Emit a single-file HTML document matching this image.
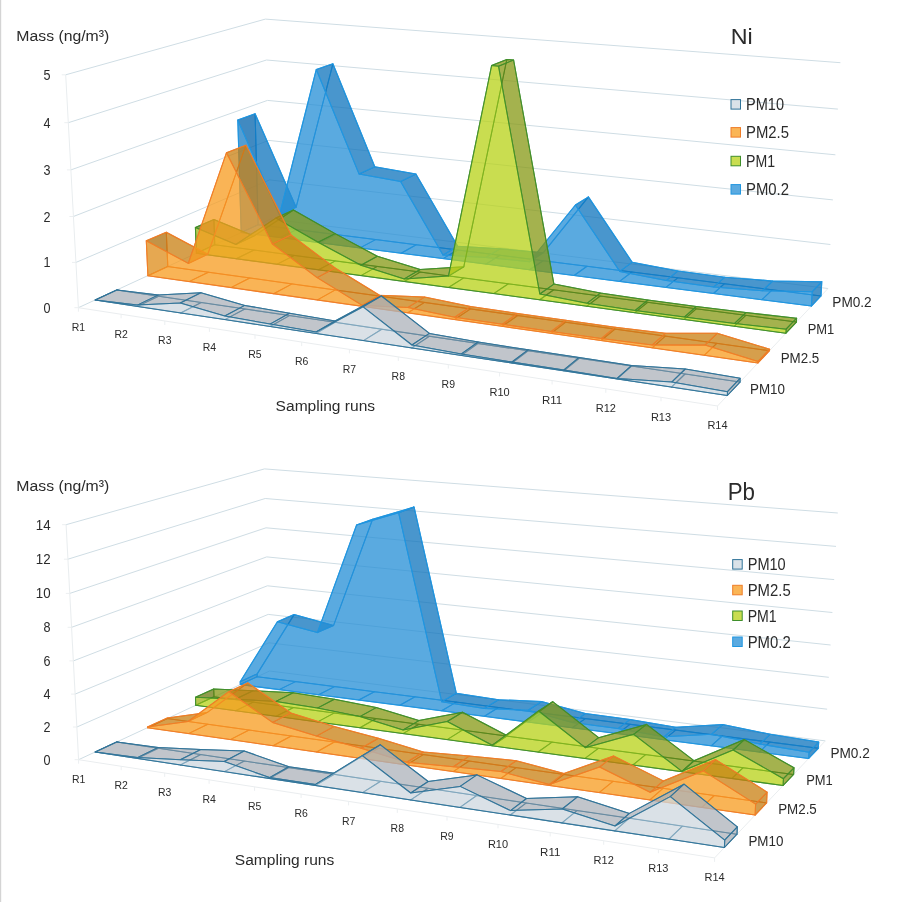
<!DOCTYPE html>
<html><head><meta charset="utf-8"><title>Ni / Pb</title><style>html,body{margin:0;padding:0;background:#fff;overflow:hidden}</style></head><body>
<svg width="900" height="902" viewBox="0 0 900 902" style="display:block">
<rect width="900" height="902" fill="#fff"/>
<rect x="0" y="0" width="1.2" height="902" fill="#d4d4d4"/>
<polyline points="78.4,307.7 270.6,219.0 828.0,288.5" fill="none" stroke="#cfdde4" stroke-width="1"/>
<line x1="74.4" y1="307.7" x2="78.4" y2="307.7" stroke="#eceff1" stroke-width="1"/>
<polyline points="76.0,262.4 269.6,179.9 830.4,244.5" fill="none" stroke="#cfdde4" stroke-width="1"/>
<line x1="72.0" y1="262.4" x2="76.0" y2="262.4" stroke="#eceff1" stroke-width="1"/>
<polyline points="73.4,216.5 268.6,140.4 832.9,199.9" fill="none" stroke="#cfdde4" stroke-width="1"/>
<line x1="69.4" y1="216.5" x2="73.4" y2="216.5" stroke="#eceff1" stroke-width="1"/>
<polyline points="70.9,169.9 267.5,100.4 835.4,154.8" fill="none" stroke="#cfdde4" stroke-width="1"/>
<line x1="66.9" y1="169.9" x2="70.9" y2="169.9" stroke="#eceff1" stroke-width="1"/>
<polyline points="68.3,122.7 266.5,60.0 837.9,109.1" fill="none" stroke="#cfdde4" stroke-width="1"/>
<line x1="64.3" y1="122.7" x2="68.3" y2="122.7" stroke="#eceff1" stroke-width="1"/>
<polyline points="65.7,74.8 265.4,19.1 840.4,62.7" fill="none" stroke="#cfdde4" stroke-width="1"/>
<line x1="61.7" y1="74.8" x2="65.7" y2="74.8" stroke="#eceff1" stroke-width="1"/>
<line x1="78.4" y1="307.7" x2="65.7" y2="74.8" stroke="#e9edef" stroke-width="1"/>
<polyline points="78.4,307.7 717.5,406.0 828.0,288.5" fill="none" stroke="#eaedef" stroke-width="1"/>
<line x1="78.4" y1="307.7" x2="78.4" y2="311.7" stroke="#eceff1" stroke-width="1"/>
<line x1="121.1" y1="314.3" x2="121.1" y2="318.3" stroke="#eceff1" stroke-width="1"/>
<line x1="164.8" y1="321.0" x2="164.8" y2="325.0" stroke="#eceff1" stroke-width="1"/>
<line x1="209.4" y1="327.9" x2="209.4" y2="331.9" stroke="#eceff1" stroke-width="1"/>
<line x1="255.0" y1="334.9" x2="255.0" y2="338.9" stroke="#eceff1" stroke-width="1"/>
<line x1="301.7" y1="342.1" x2="301.7" y2="346.1" stroke="#eceff1" stroke-width="1"/>
<line x1="349.4" y1="349.4" x2="349.4" y2="353.4" stroke="#eceff1" stroke-width="1"/>
<line x1="398.3" y1="356.9" x2="398.3" y2="360.9" stroke="#eceff1" stroke-width="1"/>
<line x1="448.3" y1="364.6" x2="448.3" y2="368.6" stroke="#eceff1" stroke-width="1"/>
<line x1="499.6" y1="372.5" x2="499.6" y2="376.5" stroke="#eceff1" stroke-width="1"/>
<line x1="552.1" y1="380.5" x2="552.1" y2="384.5" stroke="#eceff1" stroke-width="1"/>
<line x1="605.8" y1="388.8" x2="605.8" y2="392.8" stroke="#eceff1" stroke-width="1"/>
<line x1="661.0" y1="397.3" x2="661.0" y2="401.3" stroke="#eceff1" stroke-width="1"/>
<line x1="717.5" y1="406.0" x2="717.5" y2="410.0" stroke="#eceff1" stroke-width="1"/>
<g stroke="#2096e0" stroke-width="1.05" stroke-opacity="0.9" stroke-linejoin="round" fill-opacity="0.5">
<polygon points="241.2,232.6 280.0,237.6 296.6,229.6 258.2,224.7" fill="#248ed6"/>
<polygon points="280.0,237.6 319.6,242.7 335.7,234.5 296.6,229.6" fill="#248ed6"/>
<polygon points="319.6,242.7 360.0,247.9 375.6,239.6 335.7,234.5" fill="#248ed6"/>
<polygon points="360.0,247.9 401.1,253.2 416.2,244.7 375.6,239.6" fill="#248ed6"/>
<polygon points="401.1,253.2 443.1,258.6 457.7,250.0 416.2,244.7" fill="#248ed6"/>
<polygon points="443.1,258.6 485.9,264.1 500.0,255.3 457.7,250.0" fill="#248ed6"/>
<polygon points="485.9,264.1 529.5,269.8 543.1,260.8 500.0,255.3" fill="#248ed6"/>
<polygon points="529.5,269.8 574.1,275.5 587.0,266.3 543.1,260.8" fill="#248ed6"/>
<polygon points="574.1,275.5 619.6,281.4 631.9,272.0 587.0,266.3" fill="#248ed6"/>
<polygon points="619.6,281.4 666.0,287.4 677.7,277.8 631.9,272.0" fill="#248ed6"/>
<polygon points="666.0,287.4 713.5,293.5 724.5,283.7 677.7,277.8" fill="#248ed6"/>
<polygon points="713.5,293.5 761.9,299.7 772.2,289.8 724.5,283.7" fill="#248ed6"/>
<polygon points="761.9,299.7 811.4,306.1 821.0,295.9 772.2,289.8" fill="#248ed6"/>
<polygon points="258.2,224.7 255.1,113.8 296.1,207.3 332.9,63.8 374.8,166.7 415.9,174.1 457.7,246.3 500.0,248.7 543.2,252.8 588.4,196.9 632.2,262.2 678.0,270.9 724.8,277.2 772.7,281.0 821.8,281.7 821.0,295.9" fill="#248ed6"/>
<polygon points="241.2,232.6 237.8,120.1 255.1,113.8 258.2,224.7" fill="#0260a6"/>
<polygon points="237.8,120.1 279.5,215.0 296.1,207.3 255.1,113.8" fill="#0265af"/>
<polygon points="279.5,215.0 316.3,69.5 332.9,63.8 296.1,207.3" fill="#248ed6"/>
<polygon points="316.3,69.5 359.0,173.9 374.8,166.7 332.9,63.8" fill="#0265af"/>
<polygon points="359.0,173.9 400.6,181.5 415.9,174.1 374.8,166.7" fill="#0265af"/>
<polygon points="400.6,181.5 443.0,254.9 457.7,246.3 415.9,174.1" fill="#0265af"/>
<polygon points="443.0,254.9 485.9,257.4 500.0,248.7 457.7,246.3" fill="#0265af"/>
<polygon points="485.9,257.4 529.6,261.7 543.2,252.8 500.0,248.7" fill="#0265af"/>
<polygon points="529.6,261.7 575.4,205.0 588.4,196.9 543.2,252.8" fill="#248ed6"/>
<polygon points="575.4,205.0 619.8,271.4 632.2,262.2 588.4,196.9" fill="#0265af"/>
<polygon points="619.8,271.4 666.3,280.4 678.0,270.9 632.2,262.2" fill="#0265af"/>
<polygon points="666.3,280.4 713.7,286.9 724.8,277.2 678.0,270.9" fill="#0265af"/>
<polygon points="713.7,286.9 762.3,290.8 772.7,281.0 724.8,277.2" fill="#0265af"/>
<polygon points="762.3,290.8 812.2,291.7 821.8,281.7 772.7,281.0" fill="#0265af"/>
<polygon points="811.4,306.1 812.2,291.7 821.8,281.7 821.0,295.9" fill="#0260a6"/>
<polygon points="241.2,232.6 237.8,120.1 279.5,215.0 316.3,69.5 359.0,173.9 400.6,181.5 443.0,254.9 485.9,257.4 529.6,261.7 575.4,205.0 619.8,271.4 666.3,280.4 713.7,286.9 762.3,290.8 812.2,291.7 811.4,306.1" fill="#248ed6"/>
</g>
<g stroke="#3f8f2b" stroke-width="1.05" stroke-opacity="0.9" stroke-linejoin="round" fill-opacity="0.5">
<polygon points="196.4,253.3 236.3,258.7 254.2,250.0 214.8,244.8" fill="#b7d216"/>
<polygon points="236.3,258.7 277.1,264.2 294.5,255.4 254.2,250.0" fill="#b7d216"/>
<polygon points="277.1,264.2 318.6,269.8 335.5,260.9 294.5,255.4" fill="#b7d216"/>
<polygon points="318.6,269.8 361.0,275.6 377.4,266.4 335.5,260.9" fill="#b7d216"/>
<polygon points="361.0,275.6 404.3,281.5 420.2,272.1 377.4,266.4" fill="#b7d216"/>
<polygon points="404.3,281.5 448.5,287.5 463.8,277.9 420.2,272.1" fill="#b7d216"/>
<polygon points="448.5,287.5 493.7,293.6 508.4,283.8 463.8,277.9" fill="#b7d216"/>
<polygon points="493.7,293.6 539.8,299.8 553.8,289.8 508.4,283.8" fill="#b7d216"/>
<polygon points="539.8,299.8 586.9,306.2 600.3,296.0 553.8,289.8" fill="#b7d216"/>
<polygon points="586.9,306.2 635.0,312.7 647.7,302.3 600.3,296.0" fill="#b7d216"/>
<polygon points="635.0,312.7 684.2,319.4 696.2,308.8 647.7,302.3" fill="#b7d216"/>
<polygon points="684.2,319.4 734.5,326.2 745.8,315.3 696.2,308.8" fill="#b7d216"/>
<polygon points="734.5,326.2 785.9,333.2 796.4,322.1 745.8,315.3" fill="#b7d216"/>
<polygon points="214.8,244.8 213.9,219.5 253.8,236.1 293.4,210.0 335.1,233.6 377.3,256.3 420.2,269.5 463.8,266.7 506.8,59.5 513.6,60.0 553.9,284.1 600.3,293.1 647.8,300.1 696.3,306.5 745.9,312.6 796.6,318.2 796.4,322.1" fill="#b7d216"/>
<polygon points="196.4,253.3 195.4,227.6 213.9,219.5 214.8,244.8" fill="#687510"/>
<polygon points="195.4,227.6 235.9,244.5 253.8,236.1 213.9,219.5" fill="#6d7b11"/>
<polygon points="235.9,244.5 275.9,218.1 293.4,210.0 253.8,236.1" fill="#b7d216"/>
<polygon points="275.9,218.1 318.1,242.2 335.1,233.6 293.4,210.0" fill="#6d7b11"/>
<polygon points="318.1,242.2 360.9,265.3 377.3,256.3 335.1,233.6" fill="#6d7b11"/>
<polygon points="360.9,265.3 404.3,278.9 420.2,269.5 377.3,256.3" fill="#6d7b11"/>
<polygon points="404.3,278.9 448.5,276.1 463.8,266.7 420.2,269.5" fill="#6d7b11"/>
<polygon points="448.5,276.1 491.6,65.6 506.8,59.5 463.8,266.7" fill="#b7d216"/>
<polygon points="491.6,65.6 498.5,66.2 513.6,60.0 506.8,59.5" fill="#6d7b11"/>
<polygon points="498.5,66.2 539.8,294.0 553.9,284.1 513.6,60.0" fill="#6d7b11"/>
<polygon points="539.8,294.0 586.9,303.3 600.3,293.1 553.9,284.1" fill="#6d7b11"/>
<polygon points="586.9,303.3 635.1,310.5 647.8,300.1 600.3,293.1" fill="#6d7b11"/>
<polygon points="635.1,310.5 684.3,317.1 696.3,306.5 647.8,300.1" fill="#6d7b11"/>
<polygon points="684.3,317.1 734.6,323.4 745.9,312.6 696.3,306.5" fill="#6d7b11"/>
<polygon points="734.6,323.4 786.1,329.2 796.6,318.2 745.9,312.6" fill="#6d7b11"/>
<polygon points="785.9,333.2 786.1,329.2 796.6,318.2 796.4,322.1" fill="#687510"/>
<polygon points="196.4,253.3 195.4,227.6 235.9,244.5 275.9,218.1 318.1,242.2 360.9,265.3 404.3,278.9 448.5,276.1 491.6,65.6 498.5,66.2 539.8,294.0 586.9,303.3 635.1,310.5 684.3,317.1 734.6,323.4 786.1,329.2 785.9,333.2" fill="#b7d216"/>
</g>
<g stroke="#ef7d28" stroke-width="1.05" stroke-opacity="0.9" stroke-linejoin="round" fill-opacity="0.5">
<polygon points="147.9,275.7 189.0,281.6 208.4,272.2 167.8,266.5" fill="#f89c1e"/>
<polygon points="189.0,281.6 230.9,287.6 249.8,278.0 208.4,272.2" fill="#f89c1e"/>
<polygon points="230.9,287.6 273.7,293.7 292.1,283.9 249.8,278.0" fill="#f89c1e"/>
<polygon points="273.7,293.7 317.5,299.9 335.4,289.9 292.1,283.9" fill="#f89c1e"/>
<polygon points="317.5,299.9 362.2,306.3 379.5,296.1 335.4,289.9" fill="#f89c1e"/>
<polygon points="362.2,306.3 407.9,312.8 424.6,302.4 379.5,296.1" fill="#f89c1e"/>
<polygon points="407.9,312.8 454.6,319.5 470.6,308.9 424.6,302.4" fill="#f89c1e"/>
<polygon points="454.6,319.5 502.3,326.3 517.7,315.5 470.6,308.9" fill="#f89c1e"/>
<polygon points="502.3,326.3 551.1,333.3 565.8,322.2 517.7,315.5" fill="#f89c1e"/>
<polygon points="551.1,333.3 601.1,340.5 615.0,329.1 565.8,322.2" fill="#f89c1e"/>
<polygon points="601.1,340.5 652.2,347.8 665.3,336.1 615.0,329.1" fill="#f89c1e"/>
<polygon points="652.2,347.8 704.5,355.2 716.8,343.3 665.3,336.1" fill="#f89c1e"/>
<polygon points="704.5,355.2 758.0,362.9 769.5,350.7 716.8,343.3" fill="#f89c1e"/>
<polygon points="167.8,266.5 166.3,232.2 207.7,254.3 245.9,145.2 291.0,235.0 335.0,268.0 379.5,295.2 424.5,297.1 470.6,306.6 517.7,313.4 565.8,320.3 615.1,327.2 665.4,333.3 717.2,333.3 769.6,349.2 769.5,350.7" fill="#f89c1e"/>
<polygon points="147.9,275.7 146.3,240.8 166.3,232.2 167.8,266.5" fill="#a96c0a"/>
<polygon points="146.3,240.8 188.3,263.4 207.7,254.3 166.3,232.2" fill="#b2720a"/>
<polygon points="188.3,263.4 226.5,152.7 245.9,145.2 207.7,254.3" fill="#f89c1e"/>
<polygon points="226.5,152.7 272.4,244.0 291.0,235.0 245.9,145.2" fill="#b2720a"/>
<polygon points="272.4,244.0 317.1,277.6 335.0,268.0 291.0,235.0" fill="#b2720a"/>
<polygon points="317.1,277.6 362.2,305.4 379.5,295.2 335.0,268.0" fill="#b2720a"/>
<polygon points="362.2,305.4 407.9,307.4 424.5,297.1 379.5,295.2" fill="#b2720a"/>
<polygon points="407.9,307.4 454.6,317.2 470.6,306.6 424.5,297.1" fill="#b2720a"/>
<polygon points="454.6,317.2 502.3,324.3 517.7,313.4 470.6,306.6" fill="#b2720a"/>
<polygon points="502.3,324.3 551.2,331.4 565.8,320.3 517.7,313.4" fill="#b2720a"/>
<polygon points="551.2,331.4 601.1,338.6 615.1,327.2 565.8,320.3" fill="#b2720a"/>
<polygon points="601.1,338.6 652.3,344.9 665.4,333.3 615.1,327.2" fill="#b2720a"/>
<polygon points="652.3,344.9 704.9,345.1 717.2,333.3 665.4,333.3" fill="#b2720a"/>
<polygon points="704.9,345.1 758.1,361.4 769.6,349.2 717.2,333.3" fill="#b2720a"/>
<polygon points="758.0,362.9 758.1,361.4 769.6,349.2 769.5,350.7" fill="#a96c0a"/>
<polygon points="147.9,275.7 146.3,240.8 188.3,263.4 226.5,152.7 272.4,244.0 317.1,277.6 362.2,305.4 407.9,307.4 454.6,317.2 502.3,324.3 551.2,331.4 601.1,338.6 652.3,344.9 704.9,345.1 758.1,361.4 758.0,362.9" fill="#f89c1e"/>
</g>
<g stroke="#2e7298" stroke-width="1.05" stroke-opacity="0.9" stroke-linejoin="round" fill-opacity="0.5">
<polygon points="95.2,300.0 137.5,306.4 158.6,296.2 116.8,290.0" fill="#cdd8e0"/>
<polygon points="137.5,306.4 180.7,313.0 201.3,302.5 158.6,296.2" fill="#cdd8e0"/>
<polygon points="180.7,313.0 224.9,319.6 244.9,309.0 201.3,302.5" fill="#cdd8e0"/>
<polygon points="224.9,319.6 270.1,326.5 289.5,315.6 244.9,309.0" fill="#cdd8e0"/>
<polygon points="270.1,326.5 316.3,333.4 335.1,322.3 289.5,315.6" fill="#cdd8e0"/>
<polygon points="316.3,333.4 363.5,340.6 381.8,329.2 335.1,322.3" fill="#cdd8e0"/>
<polygon points="363.5,340.6 411.9,347.9 429.4,336.2 381.8,329.2" fill="#cdd8e0"/>
<polygon points="411.9,347.9 461.4,355.4 478.2,343.4 429.4,336.2" fill="#cdd8e0"/>
<polygon points="461.4,355.4 512.0,363.0 528.1,350.8 478.2,343.4" fill="#cdd8e0"/>
<polygon points="512.0,363.0 563.9,370.8 579.2,358.3 528.1,350.8" fill="#cdd8e0"/>
<polygon points="563.9,370.8 617.1,378.9 631.5,366.1 579.2,358.3" fill="#cdd8e0"/>
<polygon points="617.1,378.9 671.5,387.1 685.1,374.0 631.5,366.1" fill="#cdd8e0"/>
<polygon points="671.5,387.1 727.3,395.5 740.0,382.1 685.1,374.0" fill="#cdd8e0"/>
<polygon points="116.8,290.0 116.8,290.0 158.5,294.9 200.9,292.7 244.8,305.4 289.5,313.3 335.1,320.9 381.4,296.0 429.4,333.4 478.2,342.0 528.1,349.8 579.2,357.4 631.5,365.6 685.3,369.0 740.1,378.3 740.0,382.1" fill="#cdd8e0"/>
<polygon points="95.2,300.0 95.2,300.0 116.8,290.0 116.8,290.0" fill="#9498a0"/>
<polygon points="95.2,300.0 137.4,305.1 158.5,294.9 116.8,290.0" fill="#9ca0a8"/>
<polygon points="137.4,305.1 180.3,303.0 200.9,292.7 158.5,294.9" fill="#9ca0a8"/>
<polygon points="180.3,303.0 224.8,316.0 244.8,305.4 200.9,292.7" fill="#9ca0a8"/>
<polygon points="224.8,316.0 270.0,324.1 289.5,313.3 244.8,305.4" fill="#9ca0a8"/>
<polygon points="270.0,324.1 316.2,332.0 335.1,320.9 289.5,313.3" fill="#9ca0a8"/>
<polygon points="316.2,332.0 363.1,306.8 381.4,296.0 335.1,320.9" fill="#9ca0a8"/>
<polygon points="363.1,306.8 411.9,345.0 429.4,333.4 381.4,296.0" fill="#9ca0a8"/>
<polygon points="411.9,345.0 461.4,353.9 478.2,342.0 429.4,333.4" fill="#9ca0a8"/>
<polygon points="461.4,353.9 512.0,362.0 528.1,349.8 478.2,342.0" fill="#9ca0a8"/>
<polygon points="512.0,362.0 563.9,369.9 579.2,357.4 528.1,349.8" fill="#9ca0a8"/>
<polygon points="563.9,369.9 617.1,378.4 631.5,365.6 579.2,357.4" fill="#9ca0a8"/>
<polygon points="617.1,378.4 671.7,382.1 685.3,369.0 631.5,365.6" fill="#9ca0a8"/>
<polygon points="671.7,382.1 727.5,391.7 740.1,378.3 685.3,369.0" fill="#9ca0a8"/>
<polygon points="727.3,395.5 727.5,391.7 740.1,378.3 740.0,382.1" fill="#9498a0"/>
<polygon points="95.2,300.0 95.2,300.0 137.4,305.1 180.3,303.0 224.8,316.0 270.0,324.1 316.2,332.0 363.1,306.8 411.9,345.0 461.4,353.9 512.0,362.0 563.9,369.9 617.1,378.4 671.7,382.1 727.5,391.7 727.3,395.5" fill="#cdd8e0"/>
</g>
<text x="16.3" y="40.8" font-size="15.2" textLength="93" lengthAdjust="spacingAndGlyphs" font-family="Liberation Sans, sans-serif" fill="#2b2b2b">Mass (ng/m³)</text>
<text x="43.6" y="312.7" font-size="14.2" textLength="7.0" lengthAdjust="spacingAndGlyphs" font-family="Liberation Sans, sans-serif" fill="#2b2b2b">0</text>
<text x="43.6" y="267.4" font-size="14.2" textLength="7.0" lengthAdjust="spacingAndGlyphs" font-family="Liberation Sans, sans-serif" fill="#2b2b2b">1</text>
<text x="43.6" y="221.5" font-size="14.2" textLength="7.0" lengthAdjust="spacingAndGlyphs" font-family="Liberation Sans, sans-serif" fill="#2b2b2b">2</text>
<text x="43.6" y="174.9" font-size="14.2" textLength="7.0" lengthAdjust="spacingAndGlyphs" font-family="Liberation Sans, sans-serif" fill="#2b2b2b">3</text>
<text x="43.6" y="127.7" font-size="14.2" textLength="7.0" lengthAdjust="spacingAndGlyphs" font-family="Liberation Sans, sans-serif" fill="#2b2b2b">4</text>
<text x="43.6" y="79.8" font-size="14.2" textLength="7.0" lengthAdjust="spacingAndGlyphs" font-family="Liberation Sans, sans-serif" fill="#2b2b2b">5</text>
<text x="71.7" y="330.9" font-size="11.8" textLength="13.4" lengthAdjust="spacingAndGlyphs" font-family="Liberation Sans, sans-serif" fill="#2b2b2b">R1</text>
<text x="114.4" y="337.5" font-size="11.8" textLength="13.4" lengthAdjust="spacingAndGlyphs" font-family="Liberation Sans, sans-serif" fill="#2b2b2b">R2</text>
<text x="158.1" y="344.2" font-size="11.8" textLength="13.4" lengthAdjust="spacingAndGlyphs" font-family="Liberation Sans, sans-serif" fill="#2b2b2b">R3</text>
<text x="202.7" y="351.1" font-size="11.8" textLength="13.4" lengthAdjust="spacingAndGlyphs" font-family="Liberation Sans, sans-serif" fill="#2b2b2b">R4</text>
<text x="248.3" y="358.1" font-size="11.8" textLength="13.4" lengthAdjust="spacingAndGlyphs" font-family="Liberation Sans, sans-serif" fill="#2b2b2b">R5</text>
<text x="295.0" y="365.3" font-size="11.8" textLength="13.4" lengthAdjust="spacingAndGlyphs" font-family="Liberation Sans, sans-serif" fill="#2b2b2b">R6</text>
<text x="342.7" y="372.6" font-size="11.8" textLength="13.4" lengthAdjust="spacingAndGlyphs" font-family="Liberation Sans, sans-serif" fill="#2b2b2b">R7</text>
<text x="391.6" y="380.1" font-size="11.8" textLength="13.4" lengthAdjust="spacingAndGlyphs" font-family="Liberation Sans, sans-serif" fill="#2b2b2b">R8</text>
<text x="441.6" y="387.8" font-size="11.8" textLength="13.4" lengthAdjust="spacingAndGlyphs" font-family="Liberation Sans, sans-serif" fill="#2b2b2b">R9</text>
<text x="489.5" y="395.7" font-size="11.8" textLength="20.2" lengthAdjust="spacingAndGlyphs" font-family="Liberation Sans, sans-serif" fill="#2b2b2b">R10</text>
<text x="542.0" y="403.7" font-size="11.8" textLength="20.2" lengthAdjust="spacingAndGlyphs" font-family="Liberation Sans, sans-serif" fill="#2b2b2b">R11</text>
<text x="595.7" y="412.0" font-size="11.8" textLength="20.2" lengthAdjust="spacingAndGlyphs" font-family="Liberation Sans, sans-serif" fill="#2b2b2b">R12</text>
<text x="650.9" y="420.5" font-size="11.8" textLength="20.2" lengthAdjust="spacingAndGlyphs" font-family="Liberation Sans, sans-serif" fill="#2b2b2b">R13</text>
<text x="707.4" y="429.2" font-size="11.8" textLength="20.2" lengthAdjust="spacingAndGlyphs" font-family="Liberation Sans, sans-serif" fill="#2b2b2b">R14</text>
<text x="275.6" y="410.5" font-size="15.5" textLength="99.5" lengthAdjust="spacingAndGlyphs" font-family="Liberation Sans, sans-serif" fill="#2b2b2b">Sampling runs</text>
<text x="730.7" y="44.3" font-size="22.5" textLength="22" lengthAdjust="spacingAndGlyphs" font-family="Liberation Sans, sans-serif" fill="#2b2b2b">Ni</text>
<rect x="731" y="99.6" width="9.5" height="9.5" fill="#dae2e8" stroke="#2e7298" stroke-width="1"/>
<text x="746" y="110.1" font-size="16" textLength="38" lengthAdjust="spacingAndGlyphs" font-family="Liberation Sans, sans-serif" fill="#2b2b2b">PM10</text>
<rect x="731" y="127.6" width="9.5" height="9.5" fill="#fab556" stroke="#ef7d28" stroke-width="1"/>
<text x="746" y="138.1" font-size="16" textLength="43" lengthAdjust="spacingAndGlyphs" font-family="Liberation Sans, sans-serif" fill="#2b2b2b">PM2.5</text>
<rect x="731" y="156.3" width="9.5" height="9.5" fill="#c9dd50" stroke="#3f8f2b" stroke-width="1"/>
<text x="746" y="166.8" font-size="16" textLength="29" lengthAdjust="spacingAndGlyphs" font-family="Liberation Sans, sans-serif" fill="#2b2b2b">PM1</text>
<rect x="731" y="184.6" width="9.5" height="9.5" fill="#5baae0" stroke="#2096e0" stroke-width="1"/>
<text x="746" y="195.1" font-size="16" textLength="43" lengthAdjust="spacingAndGlyphs" font-family="Liberation Sans, sans-serif" fill="#2b2b2b">PM0.2</text>
<text x="832.3" y="307.3" font-size="14.7" textLength="39.4" lengthAdjust="spacingAndGlyphs" font-family="Liberation Sans, sans-serif" fill="#2b2b2b">PM0.2</text>
<text x="807.7" y="334.3" font-size="14.7" textLength="26.6" lengthAdjust="spacingAndGlyphs" font-family="Liberation Sans, sans-serif" fill="#2b2b2b">PM1</text>
<text x="780.7" y="362.7" font-size="14.7" textLength="38.6" lengthAdjust="spacingAndGlyphs" font-family="Liberation Sans, sans-serif" fill="#2b2b2b">PM2.5</text>
<text x="750" y="394.3" font-size="14.7" textLength="35" lengthAdjust="spacingAndGlyphs" font-family="Liberation Sans, sans-serif" fill="#2b2b2b">PM10</text><polyline points="78.6,759.7 269.6,671.0 825.3,740.9" fill="none" stroke="#cfdde4" stroke-width="1"/>
<line x1="74.6" y1="759.7" x2="78.6" y2="759.7" stroke="#eceff1" stroke-width="1"/>
<polyline points="76.9,727.0 268.9,642.8 827.1,709.2" fill="none" stroke="#cfdde4" stroke-width="1"/>
<line x1="72.9" y1="727.0" x2="76.9" y2="727.0" stroke="#eceff1" stroke-width="1"/>
<polyline points="75.1,694.1 268.2,614.4 828.8,677.3" fill="none" stroke="#cfdde4" stroke-width="1"/>
<line x1="71.1" y1="694.1" x2="75.1" y2="694.1" stroke="#eceff1" stroke-width="1"/>
<polyline points="73.4,660.9 267.4,585.8 830.6,645.0" fill="none" stroke="#cfdde4" stroke-width="1"/>
<line x1="69.4" y1="660.9" x2="73.4" y2="660.9" stroke="#eceff1" stroke-width="1"/>
<polyline points="71.6,627.3 266.7,556.9 832.4,612.5" fill="none" stroke="#cfdde4" stroke-width="1"/>
<line x1="67.6" y1="627.3" x2="71.6" y2="627.3" stroke="#eceff1" stroke-width="1"/>
<polyline points="69.8,593.4 266.0,527.8 834.2,579.6" fill="none" stroke="#cfdde4" stroke-width="1"/>
<line x1="65.8" y1="593.4" x2="69.8" y2="593.4" stroke="#eceff1" stroke-width="1"/>
<polyline points="67.9,559.2 265.2,498.5 836.0,546.4" fill="none" stroke="#cfdde4" stroke-width="1"/>
<line x1="63.9" y1="559.2" x2="67.9" y2="559.2" stroke="#eceff1" stroke-width="1"/>
<polyline points="66.1,524.7 264.5,468.9 837.8,513.0" fill="none" stroke="#cfdde4" stroke-width="1"/>
<line x1="62.1" y1="524.7" x2="66.1" y2="524.7" stroke="#eceff1" stroke-width="1"/>
<line x1="78.6" y1="759.7" x2="66.1" y2="524.7" stroke="#e9edef" stroke-width="1"/>
<polyline points="78.6,759.7 714.6,857.9 825.3,740.9" fill="none" stroke="#eaedef" stroke-width="1"/>
<line x1="78.6" y1="759.7" x2="78.6" y2="763.7" stroke="#eceff1" stroke-width="1"/>
<line x1="121.2" y1="766.2" x2="121.2" y2="770.2" stroke="#eceff1" stroke-width="1"/>
<line x1="164.7" y1="772.9" x2="164.7" y2="776.9" stroke="#eceff1" stroke-width="1"/>
<line x1="209.1" y1="779.8" x2="209.1" y2="783.8" stroke="#eceff1" stroke-width="1"/>
<line x1="254.6" y1="786.8" x2="254.6" y2="790.8" stroke="#eceff1" stroke-width="1"/>
<line x1="301.1" y1="794.0" x2="301.1" y2="798.0" stroke="#eceff1" stroke-width="1"/>
<line x1="348.6" y1="801.4" x2="348.6" y2="805.4" stroke="#eceff1" stroke-width="1"/>
<line x1="397.3" y1="808.9" x2="397.3" y2="812.9" stroke="#eceff1" stroke-width="1"/>
<line x1="447.0" y1="816.6" x2="447.0" y2="820.6" stroke="#eceff1" stroke-width="1"/>
<line x1="498.0" y1="824.4" x2="498.0" y2="828.4" stroke="#eceff1" stroke-width="1"/>
<line x1="550.2" y1="832.5" x2="550.2" y2="836.5" stroke="#eceff1" stroke-width="1"/>
<line x1="603.7" y1="840.8" x2="603.7" y2="844.8" stroke="#eceff1" stroke-width="1"/>
<line x1="658.4" y1="849.2" x2="658.4" y2="853.2" stroke="#eceff1" stroke-width="1"/>
<line x1="714.6" y1="857.9" x2="714.6" y2="861.9" stroke="#eceff1" stroke-width="1"/>
<g stroke="#2096e0" stroke-width="1.05" stroke-opacity="0.9" stroke-linejoin="round" fill-opacity="0.5">
<polygon points="240.3,684.6 279.1,689.6 295.6,681.6 257.2,676.7" fill="#248ed6"/>
<polygon points="279.1,689.6 318.6,694.7 334.6,686.6 295.6,681.6" fill="#248ed6"/>
<polygon points="318.6,694.7 358.8,700.0 374.4,691.7 334.6,686.6" fill="#248ed6"/>
<polygon points="358.8,700.0 399.9,705.3 415.0,696.8 374.4,691.7" fill="#248ed6"/>
<polygon points="399.9,705.3 441.7,710.8 456.3,702.1 415.0,696.8" fill="#248ed6"/>
<polygon points="441.7,710.8 484.4,716.3 498.5,707.5 456.3,702.1" fill="#248ed6"/>
<polygon points="484.4,716.3 527.9,722.0 541.4,713.0 498.5,707.5" fill="#248ed6"/>
<polygon points="527.9,722.0 572.3,727.7 585.3,718.6 541.4,713.0" fill="#248ed6"/>
<polygon points="572.3,727.7 617.7,733.6 630.0,724.3 585.3,718.6" fill="#248ed6"/>
<polygon points="617.7,733.6 664.0,739.7 675.7,730.1 630.0,724.3" fill="#248ed6"/>
<polygon points="664.0,739.7 711.2,745.8 722.2,736.0 675.7,730.1" fill="#248ed6"/>
<polygon points="711.2,745.8 759.4,752.1 769.8,742.1 722.2,736.0" fill="#248ed6"/>
<polygon points="759.4,752.1 808.7,758.5 818.3,748.3 769.8,742.1" fill="#248ed6"/>
<polygon points="257.2,676.7 257.2,673.9 294.1,614.6 333.6,625.4 372.6,519.2 414.1,507.1 456.3,693.2 498.5,699.7 541.6,701.5 585.4,713.5 630.1,719.4 675.8,727.2 722.7,724.6 770.2,734.2 818.7,742.1 818.3,748.3" fill="#248ed6"/>
<polygon points="240.3,684.6 240.2,681.7 257.2,673.9 257.2,676.7" fill="#0260a6"/>
<polygon points="240.2,681.7 277.4,621.7 294.1,614.6 257.2,673.9" fill="#248ed6"/>
<polygon points="277.4,621.7 317.4,632.6 333.6,625.4 294.1,614.6" fill="#0265af"/>
<polygon points="317.4,632.6 356.6,525.0 372.6,519.2 333.6,625.4" fill="#248ed6"/>
<polygon points="356.6,525.0 398.6,512.7 414.1,507.1 372.6,519.2" fill="#0265af"/>
<polygon points="398.6,512.7 441.7,701.7 456.3,693.2 414.1,507.1" fill="#0265af"/>
<polygon points="441.7,701.7 484.4,708.4 498.5,699.7 456.3,693.2" fill="#0265af"/>
<polygon points="484.4,708.4 528.1,710.3 541.6,701.5 498.5,699.7" fill="#0265af"/>
<polygon points="528.1,710.3 572.4,722.6 585.4,713.5 541.6,701.5" fill="#0265af"/>
<polygon points="572.4,722.6 617.8,728.6 630.1,719.4 585.4,713.5" fill="#0265af"/>
<polygon points="617.8,728.6 664.0,736.7 675.8,727.2 630.1,719.4" fill="#0265af"/>
<polygon points="664.0,736.7 711.6,734.2 722.7,724.6 675.8,727.2" fill="#0265af"/>
<polygon points="711.6,734.2 759.8,744.0 770.2,734.2 722.7,724.6" fill="#0265af"/>
<polygon points="759.8,744.0 809.0,752.2 818.7,742.1 770.2,734.2" fill="#0265af"/>
<polygon points="808.7,758.5 809.0,752.2 818.7,742.1 818.3,748.3" fill="#0260a6"/>
<polygon points="240.3,684.6 240.2,681.7 277.4,621.7 317.4,632.6 356.6,525.0 398.6,512.7 441.7,701.7 484.4,708.4 528.1,710.3 572.4,722.6 617.8,728.6 664.0,736.7 711.6,734.2 759.8,744.0 809.0,752.2 808.7,758.5" fill="#248ed6"/>
</g>
<g stroke="#3f8f2b" stroke-width="1.05" stroke-opacity="0.9" stroke-linejoin="round" fill-opacity="0.5">
<polygon points="195.7,705.3 235.6,710.7 253.4,702.1 214.0,696.8" fill="#b7d216"/>
<polygon points="235.6,710.7 276.2,716.3 293.6,707.5 253.4,702.1" fill="#b7d216"/>
<polygon points="276.2,716.3 317.7,721.9 334.5,712.9 293.6,707.5" fill="#b7d216"/>
<polygon points="317.7,721.9 360.0,727.7 376.3,718.5 334.5,712.9" fill="#b7d216"/>
<polygon points="360.0,727.7 403.1,733.6 418.9,724.2 376.3,718.5" fill="#b7d216"/>
<polygon points="403.1,733.6 447.2,739.6 462.4,730.1 418.9,724.2" fill="#b7d216"/>
<polygon points="447.2,739.6 492.2,745.8 506.8,736.0 462.4,730.1" fill="#b7d216"/>
<polygon points="492.2,745.8 538.1,752.0 552.1,742.1 506.8,736.0" fill="#b7d216"/>
<polygon points="538.1,752.0 585.0,758.4 598.4,748.3 552.1,742.1" fill="#b7d216"/>
<polygon points="585.0,758.4 632.9,765.0 645.7,754.6 598.4,748.3" fill="#b7d216"/>
<polygon points="632.9,765.0 681.9,771.7 693.9,761.1 645.7,754.6" fill="#b7d216"/>
<polygon points="681.9,771.7 731.9,778.5 743.2,767.7 693.9,761.1" fill="#b7d216"/>
<polygon points="731.9,778.5 783.1,785.5 793.6,774.4 743.2,767.7" fill="#b7d216"/>
<polygon points="214.0,696.8 213.7,688.9 253.1,690.8 293.2,692.8 334.3,699.3 376.2,707.6 418.9,720.6 462.5,712.2 506.8,735.5 552.7,701.7 598.6,737.7 646.5,724.4 693.9,760.7 744.4,739.6 794.0,767.8 793.6,774.4" fill="#b7d216"/>
<polygon points="195.7,705.3 195.5,697.2 213.7,688.9 214.0,696.8" fill="#687510"/>
<polygon points="195.5,697.2 235.2,699.3 253.1,690.8 213.7,688.9" fill="#6d7b11"/>
<polygon points="235.2,699.3 275.9,701.4 293.2,692.8 253.1,690.8" fill="#6d7b11"/>
<polygon points="275.9,701.4 317.4,708.1 334.3,699.3 293.2,692.8" fill="#6d7b11"/>
<polygon points="317.4,708.1 359.8,716.6 376.2,707.6 334.3,699.3" fill="#6d7b11"/>
<polygon points="359.8,716.6 403.1,729.9 418.9,720.6 376.2,707.6" fill="#6d7b11"/>
<polygon points="403.1,729.9 447.2,721.5 462.5,712.2 418.9,720.6" fill="#6d7b11"/>
<polygon points="447.2,721.5 492.2,745.3 506.8,735.5 462.5,712.2" fill="#6d7b11"/>
<polygon points="492.2,745.3 538.6,711.0 552.7,701.7 506.8,735.5" fill="#b7d216"/>
<polygon points="538.6,711.0 585.2,747.7 598.6,737.7 552.7,701.7" fill="#6d7b11"/>
<polygon points="585.2,747.7 633.7,734.3 646.5,724.4 598.6,737.7" fill="#6d7b11"/>
<polygon points="633.7,734.3 681.9,771.3 693.9,760.7 646.5,724.4" fill="#6d7b11"/>
<polygon points="681.9,771.3 733.1,750.0 744.4,739.6 693.9,760.7" fill="#6d7b11"/>
<polygon points="733.1,750.0 783.4,778.7 794.0,767.8 744.4,739.6" fill="#6d7b11"/>
<polygon points="783.1,785.5 783.4,778.7 794.0,767.8 793.6,774.4" fill="#687510"/>
<polygon points="195.7,705.3 195.5,697.2 235.2,699.3 275.9,701.4 317.4,708.1 359.8,716.6 403.1,729.9 447.2,721.5 492.2,745.3 538.6,711.0 585.2,747.7 633.7,734.3 681.9,771.3 733.1,750.0 783.4,778.7 783.1,785.5" fill="#b7d216"/>
</g>
<g stroke="#ef7d28" stroke-width="1.05" stroke-opacity="0.9" stroke-linejoin="round" fill-opacity="0.5">
<polygon points="147.5,727.7 188.5,733.6 207.8,724.2 167.3,718.5" fill="#f89c1e"/>
<polygon points="188.5,733.6 230.3,739.6 249.1,730.0 207.8,724.2" fill="#f89c1e"/>
<polygon points="230.3,739.6 273.1,745.7 291.3,736.0 249.1,730.0" fill="#f89c1e"/>
<polygon points="273.1,745.7 316.7,752.0 334.4,742.0 291.3,736.0" fill="#f89c1e"/>
<polygon points="316.7,752.0 361.2,758.4 378.4,748.2 334.4,742.0" fill="#f89c1e"/>
<polygon points="361.2,758.4 406.7,764.9 423.3,754.6 378.4,748.2" fill="#f89c1e"/>
<polygon points="406.7,764.9 453.2,771.6 469.2,761.0 423.3,754.6" fill="#f89c1e"/>
<polygon points="453.2,771.6 500.8,778.5 516.1,767.6 469.2,761.0" fill="#f89c1e"/>
<polygon points="500.8,778.5 549.4,785.5 564.0,774.4 516.1,767.6" fill="#f89c1e"/>
<polygon points="549.4,785.5 599.1,792.6 613.0,781.3 564.0,774.4" fill="#f89c1e"/>
<polygon points="599.1,792.6 649.9,799.9 663.0,788.3 613.0,781.3" fill="#f89c1e"/>
<polygon points="649.9,799.9 701.9,807.4 714.3,795.5 663.0,788.3" fill="#f89c1e"/>
<polygon points="701.9,807.4 755.1,815.1 766.6,802.9 714.3,795.5" fill="#f89c1e"/>
<polygon points="167.3,718.5 167.3,717.9 207.4,712.4 247.8,682.9 290.8,713.0 334.2,726.4 378.3,738.2 423.3,752.0 469.2,756.1 516.2,760.7 564.0,773.4 613.6,756.0 663.3,780.9 715.6,759.6 767.1,792.2 766.6,802.9" fill="#f89c1e"/>
<polygon points="147.5,727.7 147.5,727.1 167.3,717.9 167.3,718.5" fill="#a96c0a"/>
<polygon points="147.5,727.1 188.1,721.5 207.4,712.4 167.3,717.9" fill="#b2720a"/>
<polygon points="188.1,721.5 228.8,691.7 247.8,682.9 207.4,712.4" fill="#f89c1e"/>
<polygon points="228.8,691.7 272.5,722.4 290.8,713.0 247.8,682.9" fill="#b2720a"/>
<polygon points="272.5,722.4 316.4,736.1 334.2,726.4 290.8,713.0" fill="#b2720a"/>
<polygon points="316.4,736.1 361.1,748.2 378.3,738.2 334.2,726.4" fill="#b2720a"/>
<polygon points="361.1,748.2 406.7,762.3 423.3,752.0 378.3,738.2" fill="#b2720a"/>
<polygon points="406.7,762.3 453.3,766.7 469.2,756.1 423.3,752.0" fill="#b2720a"/>
<polygon points="453.3,766.7 500.8,771.5 516.2,760.7 469.2,756.1" fill="#b2720a"/>
<polygon points="500.8,771.5 549.4,784.5 564.0,773.4 516.2,760.7" fill="#b2720a"/>
<polygon points="549.4,784.5 599.6,767.0 613.6,756.0 564.0,773.4" fill="#b2720a"/>
<polygon points="599.6,767.0 650.1,792.3 663.3,780.9 613.6,756.0" fill="#b2720a"/>
<polygon points="650.1,792.3 703.3,770.9 715.6,759.6 663.3,780.9" fill="#b2720a"/>
<polygon points="703.3,770.9 755.6,804.1 767.1,792.2 715.6,759.6" fill="#b2720a"/>
<polygon points="755.1,815.1 755.6,804.1 767.1,792.2 766.6,802.9" fill="#a96c0a"/>
<polygon points="147.5,727.7 147.5,727.1 188.1,721.5 228.8,691.7 272.5,722.4 316.4,736.1 361.1,748.2 406.7,762.3 453.3,766.7 500.8,771.5 549.4,784.5 599.6,767.0 650.1,792.3 703.3,770.9 755.6,804.1 755.1,815.1" fill="#f89c1e"/>
</g>
<g stroke="#2e7298" stroke-width="1.05" stroke-opacity="0.9" stroke-linejoin="round" fill-opacity="0.5">
<polygon points="95.2,752.0 137.4,758.4 158.4,748.2 116.7,742.0" fill="#cdd8e0"/>
<polygon points="137.4,758.4 180.5,764.9 200.9,754.5 158.4,748.2" fill="#cdd8e0"/>
<polygon points="180.5,764.9 224.5,771.6 244.4,761.0 200.9,754.5" fill="#cdd8e0"/>
<polygon points="224.5,771.6 269.6,778.4 288.9,767.6 244.4,761.0" fill="#cdd8e0"/>
<polygon points="269.6,778.4 315.6,785.4 334.3,774.3 288.9,767.6" fill="#cdd8e0"/>
<polygon points="315.6,785.4 362.6,792.6 380.7,781.2 334.3,774.3" fill="#cdd8e0"/>
<polygon points="362.6,792.6 410.8,799.9 428.2,788.3 380.7,781.2" fill="#cdd8e0"/>
<polygon points="410.8,799.9 460.0,807.4 476.8,795.5 428.2,788.3" fill="#cdd8e0"/>
<polygon points="460.0,807.4 510.4,815.0 526.4,802.9 476.8,795.5" fill="#cdd8e0"/>
<polygon points="510.4,815.0 562.0,822.9 577.3,810.4 526.4,802.9" fill="#cdd8e0"/>
<polygon points="562.0,822.9 614.8,830.9 629.3,818.1 577.3,810.4" fill="#cdd8e0"/>
<polygon points="614.8,830.9 669.0,839.1 682.5,826.1 629.3,818.1" fill="#cdd8e0"/>
<polygon points="669.0,839.1 724.4,847.5 737.0,834.2 682.5,826.1" fill="#cdd8e0"/>
<polygon points="116.7,742.0 116.7,742.0 158.3,747.4 200.8,749.5 244.2,751.0 288.9,766.8 334.3,773.3 380.4,744.8 428.2,781.5 476.9,774.9 526.5,798.5 577.5,796.8 629.4,813.4 684.0,784.2 737.3,826.9 737.0,834.2" fill="#cdd8e0"/>
<polygon points="95.2,752.0 95.2,752.0 116.7,742.0 116.7,742.0" fill="#9498a0"/>
<polygon points="95.2,752.0 137.4,757.6 158.3,747.4 116.7,742.0" fill="#9ca0a8"/>
<polygon points="137.4,757.6 180.3,759.8 200.8,749.5 158.3,747.4" fill="#9ca0a8"/>
<polygon points="180.3,759.8 224.2,761.5 244.2,751.0 200.8,749.5" fill="#9ca0a8"/>
<polygon points="224.2,761.5 269.5,777.6 288.9,766.8 244.2,751.0" fill="#9ca0a8"/>
<polygon points="269.5,777.6 315.6,784.4 334.3,773.3 288.9,766.8" fill="#9ca0a8"/>
<polygon points="315.6,784.4 362.2,755.6 380.4,744.8 334.3,773.3" fill="#cdd8e0"/>
<polygon points="362.2,755.6 410.7,793.0 428.2,781.5 380.4,744.8" fill="#9ca0a8"/>
<polygon points="410.7,793.0 460.1,786.4 476.9,774.9 428.2,781.5" fill="#9ca0a8"/>
<polygon points="460.1,786.4 510.5,810.6 526.5,798.5 476.9,774.9" fill="#9ca0a8"/>
<polygon points="510.5,810.6 562.2,809.0 577.5,796.8 526.5,798.5" fill="#9ca0a8"/>
<polygon points="562.2,809.0 615.0,826.0 629.4,813.4 577.5,796.8" fill="#9ca0a8"/>
<polygon points="615.0,826.0 670.3,796.6 684.0,784.2 629.4,813.4" fill="#9ca0a8"/>
<polygon points="670.3,796.6 724.7,840.2 737.3,826.9 684.0,784.2" fill="#9ca0a8"/>
<polygon points="724.4,847.5 724.7,840.2 737.3,826.9 737.0,834.2" fill="#9498a0"/>
<polygon points="95.2,752.0 95.2,752.0 137.4,757.6 180.3,759.8 224.2,761.5 269.5,777.6 315.6,784.4 362.2,755.6 410.7,793.0 460.1,786.4 510.5,810.6 562.2,809.0 615.0,826.0 670.3,796.6 724.7,840.2 724.4,847.5" fill="#cdd8e0"/>
</g>
<text x="16.3" y="490.8" font-size="15.2" textLength="93" lengthAdjust="spacingAndGlyphs" font-family="Liberation Sans, sans-serif" fill="#2b2b2b">Mass (ng/m³)</text>
<text x="43.6" y="764.7" font-size="14.2" textLength="7.0" lengthAdjust="spacingAndGlyphs" font-family="Liberation Sans, sans-serif" fill="#2b2b2b">0</text>
<text x="43.6" y="732.0" font-size="14.2" textLength="7.0" lengthAdjust="spacingAndGlyphs" font-family="Liberation Sans, sans-serif" fill="#2b2b2b">2</text>
<text x="43.6" y="699.1" font-size="14.2" textLength="7.0" lengthAdjust="spacingAndGlyphs" font-family="Liberation Sans, sans-serif" fill="#2b2b2b">4</text>
<text x="43.6" y="665.9" font-size="14.2" textLength="7.0" lengthAdjust="spacingAndGlyphs" font-family="Liberation Sans, sans-serif" fill="#2b2b2b">6</text>
<text x="43.6" y="632.3" font-size="14.2" textLength="7.0" lengthAdjust="spacingAndGlyphs" font-family="Liberation Sans, sans-serif" fill="#2b2b2b">8</text>
<text x="35.8" y="598.4" font-size="14.2" textLength="14.8" lengthAdjust="spacingAndGlyphs" font-family="Liberation Sans, sans-serif" fill="#2b2b2b">10</text>
<text x="35.8" y="564.2" font-size="14.2" textLength="14.8" lengthAdjust="spacingAndGlyphs" font-family="Liberation Sans, sans-serif" fill="#2b2b2b">12</text>
<text x="35.8" y="529.7" font-size="14.2" textLength="14.8" lengthAdjust="spacingAndGlyphs" font-family="Liberation Sans, sans-serif" fill="#2b2b2b">14</text>
<text x="71.9" y="782.9" font-size="11.8" textLength="13.4" lengthAdjust="spacingAndGlyphs" font-family="Liberation Sans, sans-serif" fill="#2b2b2b">R1</text>
<text x="114.5" y="789.4" font-size="11.8" textLength="13.4" lengthAdjust="spacingAndGlyphs" font-family="Liberation Sans, sans-serif" fill="#2b2b2b">R2</text>
<text x="158.0" y="796.1" font-size="11.8" textLength="13.4" lengthAdjust="spacingAndGlyphs" font-family="Liberation Sans, sans-serif" fill="#2b2b2b">R3</text>
<text x="202.4" y="803.0" font-size="11.8" textLength="13.4" lengthAdjust="spacingAndGlyphs" font-family="Liberation Sans, sans-serif" fill="#2b2b2b">R4</text>
<text x="247.9" y="810.0" font-size="11.8" textLength="13.4" lengthAdjust="spacingAndGlyphs" font-family="Liberation Sans, sans-serif" fill="#2b2b2b">R5</text>
<text x="294.4" y="817.2" font-size="11.8" textLength="13.4" lengthAdjust="spacingAndGlyphs" font-family="Liberation Sans, sans-serif" fill="#2b2b2b">R6</text>
<text x="341.9" y="824.6" font-size="11.8" textLength="13.4" lengthAdjust="spacingAndGlyphs" font-family="Liberation Sans, sans-serif" fill="#2b2b2b">R7</text>
<text x="390.6" y="832.1" font-size="11.8" textLength="13.4" lengthAdjust="spacingAndGlyphs" font-family="Liberation Sans, sans-serif" fill="#2b2b2b">R8</text>
<text x="440.3" y="839.8" font-size="11.8" textLength="13.4" lengthAdjust="spacingAndGlyphs" font-family="Liberation Sans, sans-serif" fill="#2b2b2b">R9</text>
<text x="487.9" y="847.6" font-size="11.8" textLength="20.2" lengthAdjust="spacingAndGlyphs" font-family="Liberation Sans, sans-serif" fill="#2b2b2b">R10</text>
<text x="540.1" y="855.7" font-size="11.8" textLength="20.2" lengthAdjust="spacingAndGlyphs" font-family="Liberation Sans, sans-serif" fill="#2b2b2b">R11</text>
<text x="593.6" y="864.0" font-size="11.8" textLength="20.2" lengthAdjust="spacingAndGlyphs" font-family="Liberation Sans, sans-serif" fill="#2b2b2b">R12</text>
<text x="648.3" y="872.4" font-size="11.8" textLength="20.2" lengthAdjust="spacingAndGlyphs" font-family="Liberation Sans, sans-serif" fill="#2b2b2b">R13</text>
<text x="704.5" y="881.1" font-size="11.8" textLength="20.2" lengthAdjust="spacingAndGlyphs" font-family="Liberation Sans, sans-serif" fill="#2b2b2b">R14</text>
<text x="234.8" y="864.6" font-size="15.5" textLength="99.5" lengthAdjust="spacingAndGlyphs" font-family="Liberation Sans, sans-serif" fill="#2b2b2b">Sampling runs</text>
<text x="727.7" y="500" font-size="23" textLength="27.3" lengthAdjust="spacingAndGlyphs" font-family="Liberation Sans, sans-serif" fill="#2b2b2b">Pb</text>
<rect x="732.7" y="559.6" width="9.5" height="9.5" fill="#dae2e8" stroke="#2e7298" stroke-width="1"/>
<text x="747.7" y="570.1" font-size="16" textLength="38" lengthAdjust="spacingAndGlyphs" font-family="Liberation Sans, sans-serif" fill="#2b2b2b">PM10</text>
<rect x="732.7" y="585.3" width="9.5" height="9.5" fill="#fab556" stroke="#ef7d28" stroke-width="1"/>
<text x="747.7" y="595.8" font-size="16" textLength="43" lengthAdjust="spacingAndGlyphs" font-family="Liberation Sans, sans-serif" fill="#2b2b2b">PM2.5</text>
<rect x="732.7" y="611.0" width="9.5" height="9.5" fill="#c9dd50" stroke="#3f8f2b" stroke-width="1"/>
<text x="747.7" y="621.5" font-size="16" textLength="29" lengthAdjust="spacingAndGlyphs" font-family="Liberation Sans, sans-serif" fill="#2b2b2b">PM1</text>
<rect x="732.7" y="637.0" width="9.5" height="9.5" fill="#5baae0" stroke="#2096e0" stroke-width="1"/>
<text x="747.7" y="647.5" font-size="16" textLength="43" lengthAdjust="spacingAndGlyphs" font-family="Liberation Sans, sans-serif" fill="#2b2b2b">PM0.2</text>
<text x="830.4" y="758.4" font-size="14.7" textLength="39.4" lengthAdjust="spacingAndGlyphs" font-family="Liberation Sans, sans-serif" fill="#2b2b2b">PM0.2</text>
<text x="806.2" y="785.1" font-size="14.7" textLength="26.6" lengthAdjust="spacingAndGlyphs" font-family="Liberation Sans, sans-serif" fill="#2b2b2b">PM1</text>
<text x="778.2" y="814.4" font-size="14.7" textLength="38.6" lengthAdjust="spacingAndGlyphs" font-family="Liberation Sans, sans-serif" fill="#2b2b2b">PM2.5</text>
<text x="748.4" y="846.2" font-size="14.7" textLength="35" lengthAdjust="spacingAndGlyphs" font-family="Liberation Sans, sans-serif" fill="#2b2b2b">PM10</text></svg>
</body></html>
